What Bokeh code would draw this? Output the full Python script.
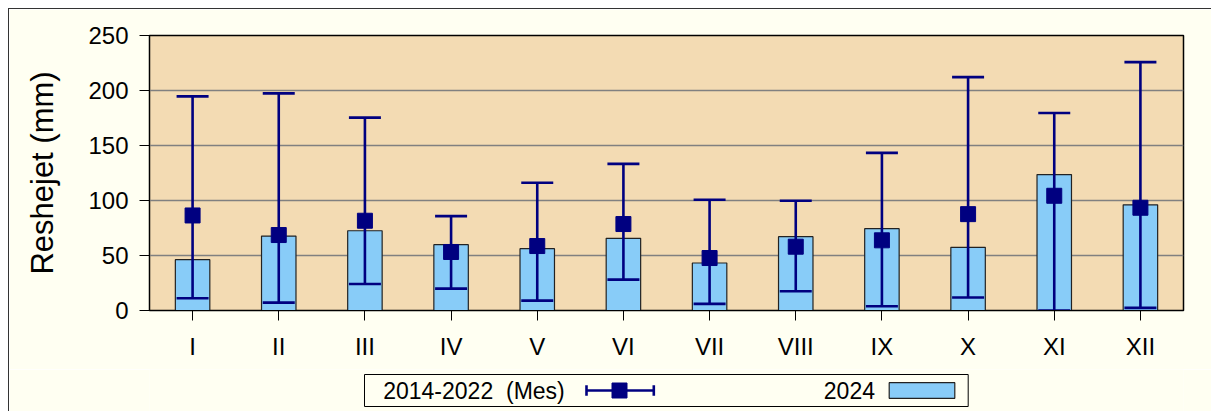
from bokeh.plotting import figure
from bokeh.models import Range1d, FixedTicker, ColumnDataSource
from bokeh.layouts import column
from bokeh.core.properties import value
from bokeh.embed import file_html
from bokeh.resources import INLINE

# ---- data ----
months = ["I", "II", "III", "IV", "V", "VI", "VII", "VIII", "IX", "X", "XI", "XII"]
mean_2014_2022 = [86.4, 68.6, 81.6, 53.2, 58.6, 78.6, 47.7, 58.0, 63.8, 87.6, 104.3, 93.4]
max_2014_2022 = [194.7, 197.4, 175.3, 85.8, 116.1, 133.3, 100.7, 99.8, 143.3, 212.2, 179.6, 225.8]
min_2014_2022 = [11.2, 7.2, 24.1, 19.9, 9.0, 28.1, 6.0, 17.5, 3.9, 11.8, 0.0, 2.4]
rain_2024 = [46.2, 67.7, 72.5, 59.8, 56.2, 65.6, 43.2, 67.1, 74.4, 57.4, 123.6, 96.1]
y_ticks = [0, 50, 100, 150, 200, 250]
series_names = ["2014-2022\u00a0\u00a0(Mes)", "2024"]

FONT = "Liberation Sans"
IVORY = "#FFFFF2"
WHEAT = "#F3DBB3"
NAVY = "#000080"
BAR = "#88CCF8"

src = ColumnDataSource(dict(m=months, mean=mean_2014_2022, hi=max_2014_2022,
                            lo=min_2014_2022, r24=rain_2024))

W = 1202
MBL, MBR = 140, 28
p = figure(width=W, height=360, x_range=months, y_range=Range1d(0, 250),
           output_backend="svg", toolbar_location=None,
           min_border_left=MBL, min_border_right=MBR, min_border_top=26, min_border_bottom=59)
p.background_fill_color = WHEAT
p.border_fill_color = IVORY
p.outline_line_color = "black"
p.outline_line_width = 1.5

p.vbar(x="m", top="r24", width=0.4, source=src, fill_color=BAR,
       line_color="#222222", line_width=1.2)
p.segment(x0="m", y0="lo", x1="m", y1="hi", source=src, line_color=NAVY, line_width=2.6)
p.scatter(x="m", y="hi", source=src, marker="dash", size=32, line_color=NAVY, line_width=2.6)
p.scatter(x="m", y="lo", source=src, marker="dash", size=32, line_color=NAVY, line_width=2.6)
p.scatter(x="m", y="mean", source=src, marker="square", size=15, fill_color=NAVY,
          line_color=NAVY)

p.xgrid.visible = False
p.ygrid.grid_line_color = "#808080"
p.ygrid.grid_line_width = 1.3
p.yaxis.ticker = FixedTicker(ticks=y_ticks)
p.yaxis.minor_tick_line_color = None
p.yaxis.axis_label = "Reshejet (mm)"
p.yaxis.axis_label_text_font = FONT
p.yaxis.axis_label_text_font_size = "31px"
p.yaxis.axis_label_text_font_style = "normal"
p.yaxis.axis_label_text_color = "black"
p.yaxis.axis_label_standoff = 25
for ax in (p.xaxis, p.yaxis):
    ax.major_label_text_font = FONT
    ax.major_label_text_font_size = "24px"
    ax.major_label_text_color = "black"
    ax.major_tick_out = 10
    ax.major_tick_in = 0
    ax.major_tick_line_color = "black"
    ax.axis_line_color = "black"
p.yaxis.major_label_standoff = 11
p.xaxis.major_label_standoff = 12

# ---- legend strip (x in figure pixels, frame aligned with the main plot) ----
LH = 42
lg = figure(width=W, height=LH, x_range=Range1d(MBL, W - MBR), y_range=Range1d(0, LH),
            output_backend="svg", toolbar_location=None,
            min_border_left=MBL, min_border_right=MBR, min_border_top=0, min_border_bottom=0,
            x_axis_type=None, y_axis_type=None)
lg.background_fill_color = IVORY
lg.border_fill_color = IVORY
lg.outline_line_color = None
lg.xgrid.visible = False
lg.ygrid.visible = False
cy = 21
lg.quad(left=[355], right=[958.7], bottom=[5], top=[37], fill_color=IVORY,
        line_color="black", line_width=1)
lg.text(x=[373.7, 814.3], y=[cy, cy], text=series_names, text_font=value(FONT),
        text_font_size="23px", text_baseline="middle", text_align="left", text_color="black")
lg.segment(x0=[577, 577, 644.3], y0=[cy, cy - 5.3, cy - 5.3],
           x1=[644.3, 577, 644.3], y1=[cy, cy + 5.3, cy + 5.3],
           line_color=NAVY, line_width=2.6)
lg.scatter(x=[610], y=[cy], marker="square", size=15, fill_color=NAVY, line_color=NAVY)
lg.quad(left=[879.7], right=[945.3], bottom=[cy - 7.8], top=[cy + 7.8], fill_color=BAR,
        line_color="#222222", line_width=1.2)

layout = column(p, lg, spacing=0,
                styles={"margin-left": "8px", "margin-top": "8px",
                        "border-left": "1px solid #333333", "border-top": "1px solid #333333"})

open("out.html", "w").write(file_html(layout, INLINE))
